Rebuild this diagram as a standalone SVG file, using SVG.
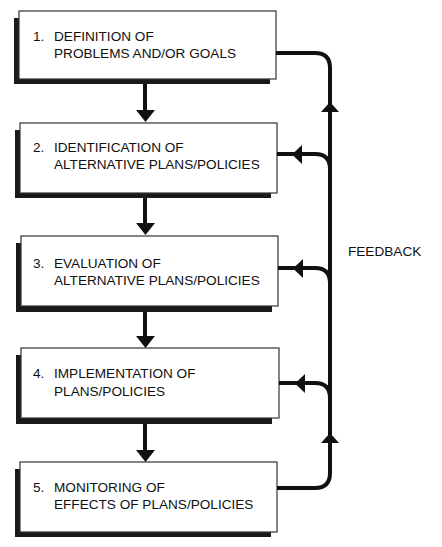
<svg xmlns="http://www.w3.org/2000/svg" width="442" height="547" viewBox="0 0 442 547">
<style>
.shadow{fill:#1a1a1a}
.box{fill:#fff;stroke:#333;stroke-width:1.2}
.t{font-family:"Liberation Sans",Arial,sans-serif;font-size:13.6px;fill:#111}
.ln{fill:none;stroke:#111;stroke-width:4;stroke-linejoin:round}
.hd{fill:#111}
</style>
<rect width="442" height="547" fill="#fff"/>
<g id="node1">
<rect class="shadow" x="14" y="18" width="256" height="66"/>
<rect class="box" x="19" y="11" width="257" height="68"/>
<text class="t" x="33" y="41">1.</text>
<text class="t" x="54" y="41">DEFINITION OF</text>
<text class="t" x="54" y="58">PROBLEMS AND/OR GOALS</text>
</g>
<g id="node2">
<rect class="shadow" x="15" y="130" width="256" height="68"/>
<rect class="box" x="20" y="123" width="257" height="70"/>
<text class="t" x="33" y="152">2.</text>
<text class="t" x="54" y="152">IDENTIFICATION OF</text>
<text class="t" x="54" y="169">ALTERNATIVE PLANS/POLICIES</text>
</g>
<g id="node3">
<rect class="shadow" x="16" y="243" width="256" height="69"/>
<rect class="box" x="21" y="236" width="257" height="70"/>
<text class="t" x="33" y="268">3.</text>
<text class="t" x="54" y="268">EVALUATION OF</text>
<text class="t" x="54" y="285">ALTERNATIVE PLANS/POLICIES</text>
</g>
<g id="node4">
<rect class="shadow" x="16" y="355" width="256" height="69"/>
<rect class="box" x="21" y="348" width="258" height="70"/>
<text class="t" x="33" y="378">4.</text>
<text class="t" x="54" y="378">IMPLEMENTATION OF</text>
<text class="t" x="54" y="396">PLANS/POLICIES</text>
</g>
<g id="node5">
<rect class="shadow" x="15" y="469" width="256" height="68"/>
<rect class="box" x="20" y="462" width="257" height="70"/>
<text class="t" x="33" y="492">5.</text>
<text class="t" x="54" y="492">MONITORING OF</text>
<text class="t" x="54" y="509">EFFECTS OF PLANS/POLICIES</text>
</g>
<g id="connectors">
<path class="ln" d="M145 84V112"/>
<path class="hd" d="M136 110H155L145.5 122Z"/>
<path class="ln" d="M145 198V225"/>
<path class="hd" d="M136 223H155L145.5 235Z"/>
<path class="ln" d="M145 312V338"/>
<path class="hd" d="M136 336H155L145.5 348Z"/>
<path class="ln" d="M145 424V452"/>
<path class="hd" d="M136 450H155L145.5 462Z"/>
<path class="ln" d="M277 488H315Q330 488 330 473V68Q330 53 315 53H276"/>
<path class="hd" d="M321 112H339L330 102Z"/>
<path class="hd" d="M321 443H339L330 433Z"/>
<path class="ln" d="M277 154H315Q330 154 330 169"/>
<path class="hd" d="M302 145V164L292 154.5Z"/>
<path class="ln" d="M278 268H315Q330 268 330 283"/>
<path class="hd" d="M303 259V278L293 268.5Z"/>
<path class="ln" d="M279 383H315Q330 383 330 398"/>
<path class="hd" d="M305 374V393L295 383.5Z"/>
</g>
<text class="t" x="348" y="256">FEEDBACK</text>
</svg>
